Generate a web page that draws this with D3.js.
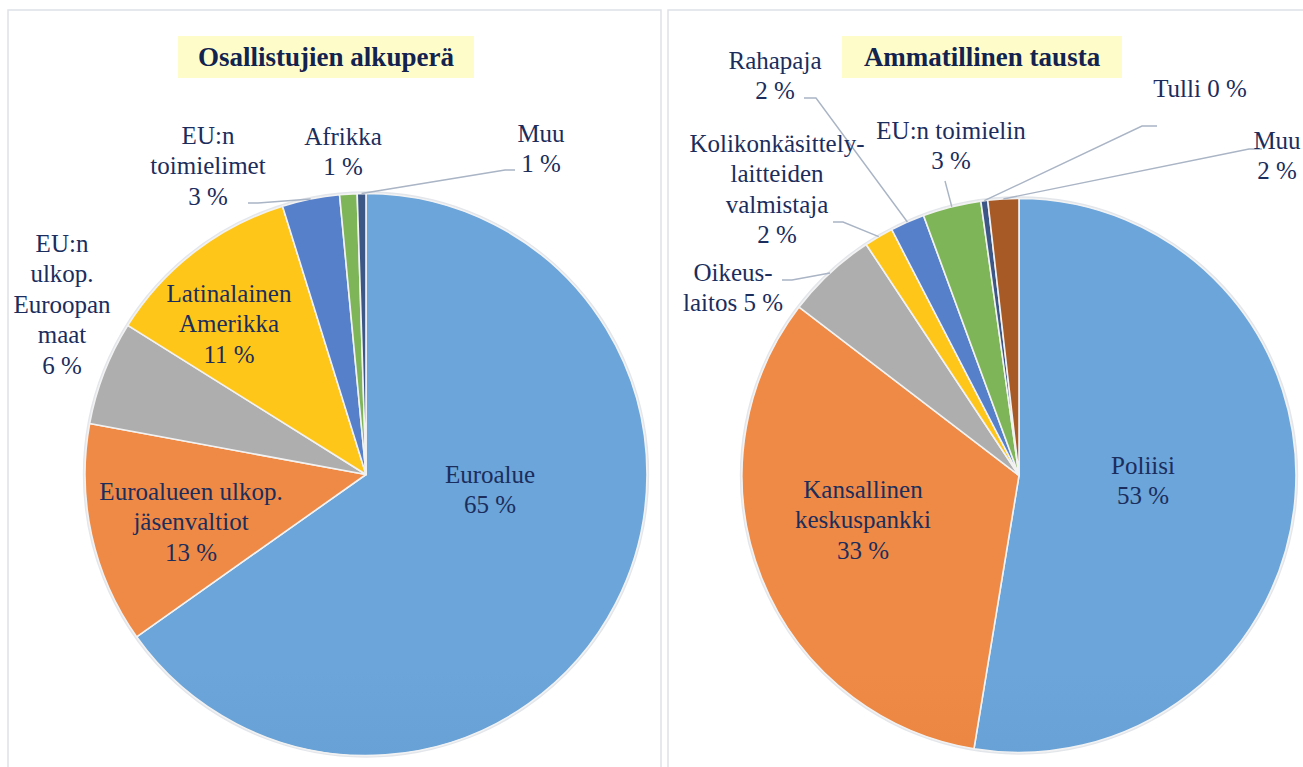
<!DOCTYPE html>
<html>
<head>
<meta charset="utf-8">
<script src="https://cdn.jsdelivr.net/npm/d3@7"></script>
</head>
<body style="margin:0">
<svg id="pies" width="1303" height="767"></svg>
<script>
// ---------------- DATA ----------------
const leftTitle = "Osallistujien alkuperä";
const leftCategories = ["Euroalue", "Euroalueen ulkop. jäsenvaltiot", "EU:n ulkop. Euroopan maat",
  "Latinalainen Amerikka", "EU:n toimielimet", "Afrikka", "Muu"];
const leftValues = [65.2, 12.7, 6.0, 11.3, 3.3, 1.0, 0.5];
const leftLabelLines = [
  ["Euroalue", "{p}"],
  ["Euroalueen ulkop.", "jäsenvaltiot", "{p}"],
  ["EU:n", "ulkop.", "Euroopan", "maat", "{p}"],
  ["Latinalainen", "Amerikka", "{p}"],
  ["EU:n", "toimielimet", "{p}"],
  ["Afrikka", "{p}"],
  ["Muu", "{p}"]
];

const rightTitle = "Ammatillinen tausta";
const rightCategories = ["Poliisi", "Kansallinen keskuspankki", "Oikeuslaitos",
  "Kolikonkäsittelylaitteiden valmistaja", "Rahapaja", "EU:n toimielin", "Tulli", "Muu"];
const rightValues = [52.6, 32.8, 5.3, 1.7, 2.0, 3.4, 0.4, 1.8];
const rightLabelLines = [
  ["Poliisi", "{p}"],
  ["Kansallinen", "keskuspankki", "{p}"],
  ["Oikeus-", "laitos {p}"],
  ["Kolikonkäsittely-", "laitteiden", "valmistaja", "{p}"],
  ["Rahapaja", "{p}"],
  ["EU:n toimielin", "{p}"],
  ["Tulli {p}"],
  ["Muu", "{p}"]
];

// ---------------- LAYOUT / STYLE ----------------
const leftColors  = ["#5B9BD5", "#ED7D31", "#A5A5A5", "#FFC000", "#4472C4", "#70AD47", "#264478"];
const rightColors = ["#5B9BD5", "#ED7D31", "#A5A5A5", "#FFC000", "#4472C4", "#70AD47", "#264478", "#9E480E"];

const panels = [
  {
    title: leftTitle, categories: leftCategories, values: leftValues, lines: leftLabelLines, colors: leftColors,
    frame: [8, 10, 653, 780],
    titleBox: [178, 36, 296, 42],
    cx: 366, cy: 474.5, r: 281,
    labelPos: [[490, 474], [191, 491], [62, 243], [229, 293], [208, 135], [343, 136], [541, 133]],
    leaders: { 4: [[248, 203], [258, 203]], 6: [[515, 170], [505, 170]] }
  },
  {
    title: rightTitle, categories: rightCategories, values: rightValues, lines: rightLabelLines, colors: rightColors,
    frame: [668, 10, 660, 780],
    titleBox: [842, 36, 280, 42],
    cx: 1019, cy: 475.5, r: 277,
    labelPos: [[1143, 465], [863, 489], [733, 272], [777, 143], [775, 60], [951, 130], [1200, 88], [1277, 140]],
    leaders: {
      2: [[782, 280], [792, 280]],
      3: [[833, 222], [843, 222]],
      4: [[804, 98], [816, 98]],
      5: [[945, 181]],
      6: [[1157, 126], [1142, 126]],
      7: [[1262, 149], [1249, 149]]
    }
  }
];

const fontFamily = "'Liberation Serif'";
const textColor = "#1b2d5c";
const lineHeight = 30.5;
const labelSize = 25;
const titleSize = 27;
const svg = d3.select("#pies");
const defs = svg.append("defs");

panels.forEach((P, pi) => {
  const g = svg.append("g");
  g.append("rect").attr("x", P.frame[0]).attr("y", P.frame[1])
    .attr("width", P.frame[2]).attr("height", P.frame[3])
    .attr("fill", "#fff").attr("stroke", "#dde1e7").attr("stroke-width", 1.5);

  g.append("rect").attr("x", P.titleBox[0]).attr("y", P.titleBox[1])
    .attr("width", P.titleBox[2]).attr("height", P.titleBox[3]).attr("fill", "#fefdca");

  const data = P.categories.map((c, i) => ({ name: c, value: P.values[i], lines: P.lines[i], color: P.colors[i] }));
  const pie = d3.pie().sort(null).value(d => d.value).startAngle(0).endAngle(2 * Math.PI);
  const arcs = pie(data);
  const arc = d3.arc().innerRadius(0).outerRadius(P.r);
  const rimArc = d3.arc().innerRadius(P.r).outerRadius(P.r);

  data.forEach((d, i) => {
    const id = `grad-${pi}-${i}`;
    const gr = defs.append("linearGradient").attr("id", id)
      .attr("gradientUnits", "userSpaceOnUse")
      .attr("x1", 0).attr("x2", 0).attr("y1", P.cy - P.r).attr("y2", P.cy + P.r);
    gr.append("stop").attr("offset", "0%").attr("stop-color", d3.interpolateRgb(d.color, "#ffffff")(0.1));
    gr.append("stop").attr("offset", "100%").attr("stop-color", d3.interpolateRgb(d.color, "#000000")(0.1));
    d.grad = id;
  });

  const pg = g.append("g").attr("transform", `translate(${P.cx},${P.cy})`);
  pg.append("circle").attr("r", P.r + 1.2).attr("fill", "none").attr("stroke", "#e3e6ea").attr("stroke-width", 2);
  pg.selectAll("path.slice").data(arcs).join("path").attr("class", "slice")
    .attr("d", arc)
    .attr("fill", d => `url(#${d.data.grad})`)
    .attr("stroke", "#f2f2f2").attr("stroke-width", 1.6).attr("stroke-linejoin", "round");

  arcs.forEach((a, i) => {
    const pts = P.leaders[i];
    if (!pts) return;
    const c = rimArc.centroid(a);
    const end = [P.cx + c[0], P.cy + c[1]];
    g.append("path").attr("d", d3.line()(pts.concat([end])))
      .attr("fill", "none").attr("stroke", "#a9b4c5").attr("stroke-width", 1.4);
  });
});

// all texts appended directly to the svg root
panels.forEach((P) => {
  svg.append("text")
    .attr("x", P.titleBox[0] + P.titleBox[2] / 2)
    .attr("y", P.titleBox[1] + P.titleBox[3] / 2 + titleSize * 0.34)
    .attr("font-size", titleSize)
    .attr("font-family", fontFamily)
    .attr("font-weight", "bold").attr("fill", "#13234f")
    .attr("text-anchor", "middle")
    .text(P.title);

  const data = P.categories.map((c, i) => ({ value: P.values[i], lines: P.lines[i] }));
  data.forEach((d, i) => {
    const [lx, ly] = P.labelPos[i];
    const pct = Math.round(d.value) + " %";
    d.lines.forEach((ln, k) => {
      svg.append("text")
        .attr("x", lx).attr("y", ly + k * lineHeight + labelSize * 0.34)
        .attr("font-size", labelSize)
        .attr("font-family", fontFamily)
        .attr("fill", textColor)
        .attr("text-anchor", "middle")
        .text(ln.replace("{p}", pct));
    });
  });
});
</script>
</body>
</html>
